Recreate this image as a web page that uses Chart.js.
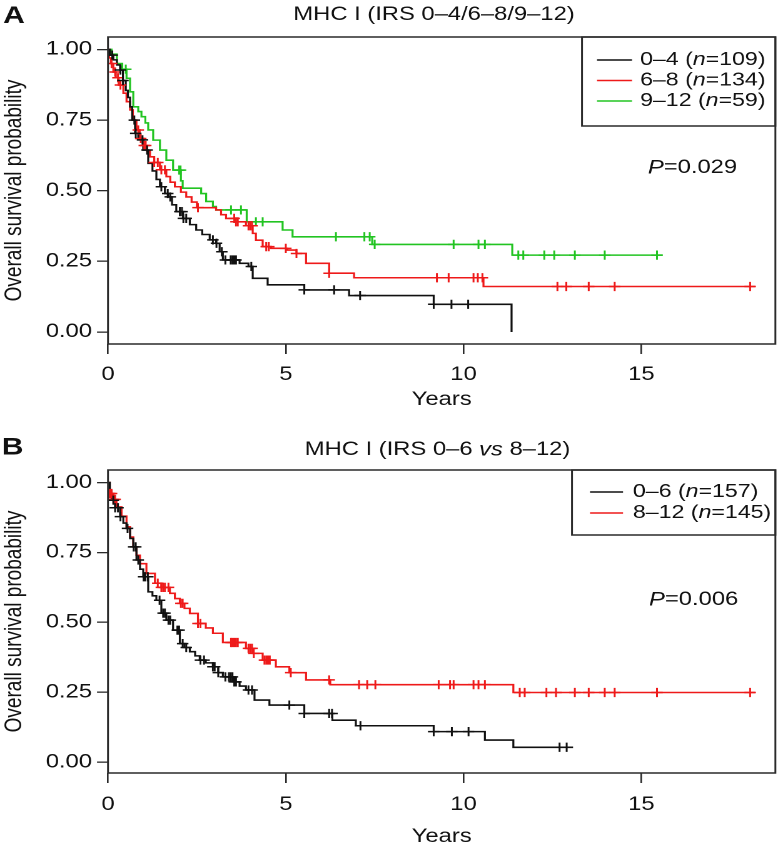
<!DOCTYPE html>
<html><head><meta charset="utf-8">
<script src="https://cdn.jsdelivr.net/npm/chart.js@4.4.0/dist/chart.umd.min.js"></script>
<style>
html,body{margin:0;padding:0;background:#fff;width:783px;height:852px;overflow:hidden}
.panel{position:absolute;left:0;transform-origin:0 0;transform:scaleX(1.2508)}
#pa{top:0}
#pb{top:420px}
canvas{display:block}
</style></head><body>
<div class="panel" id="pa"><canvas id="ca" width="626" height="420"></canvas></div>
<div class="panel" id="pb"><canvas id="cb" width="626" height="432"></canvas></div>
<script>
// ---------- DATA ----------
const xTicks = [0, 5, 10, 15];
const yTicks = [0, 0.25, 0.5, 0.75, 1];
const xTitle = 'Years';
const yTitle = 'Overall survival probability';

// Panel A
const titleA = [['MHC I (IRS 0–4/6–8/9–12)', false]];
const groupsA = ['0–4', '6–8', '9–12'];
const nA = [109, 134, 59];
const pA = '0.029';

const a04T = [0,0.05,0.15,0.25,0.34,0.42,0.5,0.56,0.62,0.68,0.76,0.85,0.99,1.13,1.25,1.36,1.46,1.6,1.69,1.8,1.92,2.11,2.3,2.48,2.65,2.86,3.04,3.14,3.23,3.7,3.95,4.07,4.49,5.52,6.78,9.16,11.35];
const a04S = [1,0.98,0.963,0.945,0.927,0.89,0.855,0.83,0.797,0.75,0.703,0.68,0.644,0.597,0.57,0.54,0.514,0.49,0.478,0.45,0.426,0.402,0.38,0.361,0.345,0.326,0.314,0.284,0.255,0.243,0.232,0.19,0.167,0.149,0.129,0.098,0];
const a04Cens = [0.12,0.35,0.42,0.74,0.78,0.97,1.1,1.5,1.68,1.75,2.02,2.08,2.12,2.2,2.95,3.05,3.2,3.3,3.45,3.5,3.55,3.6,4.03,5.52,6.36,7.09,9.16,9.66,10.13];

const a68T = [0,0.03,0.08,0.15,0.22,0.3,0.43,0.52,0.62,0.7,0.8,0.89,1.0,1.1,1.18,1.3,1.46,1.64,1.75,1.88,2.05,2.2,2.35,2.5,3.04,3.18,3.32,3.56,3.88,4.07,4.16,4.35,4.58,5.04,5.3,5.57,6.22,6.92,10.56,18.2];
const a68S = [1,0.97,0.95,0.92,0.9,0.874,0.845,0.815,0.786,0.75,0.715,0.685,0.66,0.64,0.62,0.6,0.574,0.55,0.53,0.514,0.495,0.478,0.46,0.44,0.432,0.415,0.402,0.39,0.376,0.349,0.325,0.302,0.296,0.29,0.278,0.243,0.208,0.192,0.161,0.161];
const a68Cens = [0.1,0.2,0.28,0.35,0.85,0.92,1.02,1.06,1.3,1.4,1.5,1.6,2.53,3.55,3.6,3.65,3.95,4.0,4.05,4.45,4.52,5.0,5.3,6.22,9.25,9.58,10.28,10.4,10.53,12.64,12.89,13.52,14.25,18.06];

const a912T = [0,0.1,0.25,0.4,0.52,0.62,0.71,0.85,0.94,1.05,1.13,1.27,1.46,1.64,1.83,2.05,2.1,2.62,2.76,2.95,3.04,3.9,4.91,5.19,7.43,11.37,15.6];
const a912S = [1,0.983,0.95,0.93,0.898,0.85,0.797,0.78,0.762,0.74,0.715,0.679,0.644,0.608,0.573,0.535,0.509,0.49,0.462,0.444,0.432,0.39,0.361,0.337,0.31,0.272,0.272];
const a912Cens = [0.5,2.0,2.04,3.46,3.74,4.16,4.35,6.41,7.21,7.36,7.5,9.72,10.42,10.6,11.54,11.68,12.27,12.55,13.13,13.97,15.44];

// Panel B
const titleB = [['MHC I (IRS 0–6 ', false], ['vs', true], [' 8–12)', false]];
const groupsB = ['0–6', '8–12'];
const nB = [157, 145];
const pB = '0.006';

const b06T = [0,0.05,0.1,0.2,0.34,0.43,0.52,0.62,0.71,0.8,0.9,0.99,1.13,1.25,1.36,1.5,1.64,1.83,2.02,2.15,2.3,2.45,2.58,2.75,2.95,3.1,3.23,3.51,3.7,3.88,4.12,4.54,5.52,6.31,6.97,9.16,10.6,11.4,13.08];
const b06S = [1,0.97,0.937,0.91,0.878,0.855,0.836,0.8,0.77,0.723,0.69,0.663,0.609,0.595,0.579,0.533,0.508,0.472,0.424,0.41,0.395,0.38,0.365,0.355,0.341,0.32,0.305,0.287,0.272,0.258,0.222,0.204,0.174,0.15,0.13,0.109,0.079,0.053,0.053];
const b06Cens = [0.15,0.2,0.28,0.35,0.55,0.72,0.78,0.85,1.0,1.05,1.12,1.45,1.55,1.6,1.7,1.75,1.95,2.0,2.1,2.2,2.6,2.7,2.95,3.0,3.1,3.3,3.4,3.45,3.5,3.55,3.6,3.95,4.05,5.1,5.52,6.22,6.3,7.1,9.16,9.67,10.14,12.7,12.9];

const b812T = [0,0.05,0.15,0.24,0.38,0.52,0.62,0.71,0.8,0.9,1.08,1.32,1.5,1.74,1.88,2.02,2.15,2.3,2.53,2.75,2.95,3.23,3.88,4.07,4.35,4.72,5.1,5.57,6.25,11.4,18.2];
const b812S = [1,0.961,0.94,0.913,0.88,0.842,0.805,0.77,0.74,0.71,0.675,0.64,0.625,0.604,0.585,0.568,0.55,0.532,0.496,0.48,0.461,0.428,0.407,0.389,0.365,0.341,0.32,0.294,0.277,0.249,0.249];
const b812Cens = [0.05,0.1,0.15,0.2,1.4,1.5,1.55,1.6,1.7,2.05,2.1,2.53,2.6,3.46,3.5,3.55,3.6,3.65,3.95,4.0,4.05,4.1,4.4,4.45,4.5,4.55,5.14,6.22,7.06,7.29,7.52,9.3,9.62,9.72,10.28,10.42,10.6,11.58,11.72,12.33,12.6,13.13,13.52,13.97,14.25,15.44,18.06];

// ---------- STYLE ----------
const FAMILY = '"Liberation Sans", Arial, Helvetica, sans-serif';
const TXT = '#111111';
const AX = '#2a2a2a';
const COL_BLACK = '#111111', COL_RED = '#ee1a1a', COL_GREEN = '#22c422';
Chart.defaults.font.family = FAMILY;

function survAt(T, S, t) {
  let v = S[0];
  for (let i = 0; i < T.length; i++) { if (T[i] <= t) v = S[i]; else break; }
  return v;
}

function kmDatasets(curves) {
  const ds = [];
  curves.forEach(c => {
    ds.push({
      data: c.t.map((t, i) => ({x: t, y: c.s[i]})),
      showLine: true, stepped: 'before', borderColor: c.color, backgroundColor: c.color,
      borderWidth: 1.6, pointRadius: 0, fill: false, order: 2
    });
    ds.push({
      data: c.cens.map(t => ({x: t, y: survAt(c.t, c.s, t)})),
      showLine: false, pointStyle: 'cross', pointRadius: 4.6, borderColor: c.color,
      backgroundColor: c.color, pointBorderWidth: 1.5, borderWidth: 1.5, order: 1
    });
  });
  return ds;
}

function drawRich(ctx, parts, x, y, align, size) {
  let w = 0;
  parts.forEach(p => { ctx.font = (p[1] ? 'italic ' : '') + size + 'px ' + FAMILY; w += ctx.measureText(p[0]).width; });
  let cx = align === 'center' ? x - w / 2 : x;
  ctx.textAlign = 'left'; ctx.textBaseline = 'middle';
  parts.forEach(p => {
    ctx.font = (p[1] ? 'italic ' : '') + size + 'px ' + FAMILY;
    ctx.fillText(p[0], cx, y);
    cx += ctx.measureText(p[0]).width;
  });
}

function decor(o) {
  return {
    id: 'decor',
    afterDraw(chart) {
      const ctx = chart.ctx, ca = chart.chartArea;
      ctx.save();
      ctx.strokeStyle = AX; ctx.lineWidth = 1.5;
      ctx.strokeRect(ca.left, ca.top, ca.right - ca.left, ca.bottom - ca.top);
      ctx.fillStyle = TXT;
      ctx.font = 'bold 24px ' + FAMILY;
      ctx.textAlign = 'center'; ctx.textBaseline = 'middle';
      ctx.fillText(o.letter, o.letterX, o.letterY);
      drawRich(ctx, o.title, o.titleX, o.titleY, 'center', 19);
      // legend box
      ctx.strokeRect(o.legX, ca.top, ca.right - o.legX, o.legBottom - ca.top);
      o.groups.forEach((g, i) => {
        const y = o.legRows[i];
        ctx.strokeStyle = o.colors[i]; ctx.lineWidth = 1.4;
        ctx.beginPath(); ctx.moveTo(o.lineX0, y); ctx.lineTo(o.lineX1, y); ctx.stroke();
        ctx.fillStyle = TXT;
        drawRich(ctx, [[g + ' (', false], ['n', true], ['=' + o.ns[i] + ')', false]], o.textX, y, 'left', 18.5);
      });
      drawRich(ctx, [['P', true], ['=' + o.p, false]], o.pX, o.pY, 'left', 19);
      ctx.restore();
    }
  };
}

function makeChart(id, curves, o) {
  const H = o.H;
  new Chart(document.getElementById(id), {
    type: 'scatter',
    data: {datasets: kmDatasets(curves)},
    options: {
      responsive: false, animation: false, devicePixelRatio: 2, events: [],
      layout: {padding: {top: o.top, right: 4, bottom: 0, left: 0}},
      plugins: {legend: {display: false}, tooltip: {enabled: false}},
      scales: {
        x: {
          type: 'linear', min: 0, max: 18.77,
          afterBuildTicks: s => { s.ticks = xTicks.map(v => ({value: v})); },
          afterFit: s => { s.height = H - o.bottom; },
          grid: {drawOnChartArea: false, tickLength: 10, color: AX, lineWidth: 1.3},
          border: {display: false},
          ticks: {padding: o.xPad, color: TXT, font: {size: 19}, maxRotation: 0, autoSkip: false},
          title: {display: true, text: xTitle, color: TXT, font: {size: 19}, padding: {top: 0, bottom: o.xtPad}}
        },
        y: {
          type: 'linear', min: o.ymin, max: o.ymax,
          afterBuildTicks: s => { s.ticks = yTicks.map(v => ({value: v})); },
          afterFit: s => { s.width = 86.35; },
          grid: {drawOnChartArea: false, tickLength: 8.8, color: AX, lineWidth: 1.3},
          border: {display: false},
          ticks: {padding: 4, color: TXT, font: {size: 19}, callback: v => Number(v).toFixed(2)},
          title: {display: true, text: yTitle, color: TXT, font: {size: 19}, padding: {top: 0.6, bottom: 0}}
        }
      }
    },
    plugins: [decor(o)]
  });
}

makeChart('ca', [
  {t: a04T, s: a04S, cens: a04Cens, color: COL_BLACK},
  {t: a68T, s: a68S, cens: a68Cens, color: COL_RED},
  {t: a912T, s: a912S, cens: a912Cens, color: COL_GREEN}
], {
  H: 420, top: 37, bottom: 344, ymin: -0.0425, ymax: 1.044, xPad: 9.6, xtPad: 8.6,
  letter: 'A', letterX: 11.2, letterY: 16.5, title: titleA, titleX: 347, titleY: 15,
  groups: groupsA, ns: nA, colors: [COL_BLACK, COL_RED, COL_GREEN],
  legX: 465.3, legBottom: 126, legRows: [60, 80.5, 101], lineX0: 477.3, lineX1: 505.3, textX: 511.7,
  p: pA, pX: 518, pY: 168
});

makeChart('cb', [
  {t: b06T, s: b06S, cens: b06Cens, color: COL_BLACK},
  {t: b812T, s: b812S, cens: b812Cens, color: COL_RED}
], {
  H: 432, top: 50, bottom: 353, ymin: -0.039, ymax: 1.045, xPad: 10.6, xtPad: 3.6,
  letter: 'B', letterX: 10, letterY: 28, title: titleB, titleX: 349.8, titleY: 30,
  groups: groupsB, ns: nB, colors: [COL_BLACK, COL_RED],
  legX: 457.3, legBottom: 115, legRows: [72, 93], lineX0: 471.7, lineX1: 498.1, textX: 506,
  p: pB, pX: 518.9, pY: 180
});
</script>
</body></html>
